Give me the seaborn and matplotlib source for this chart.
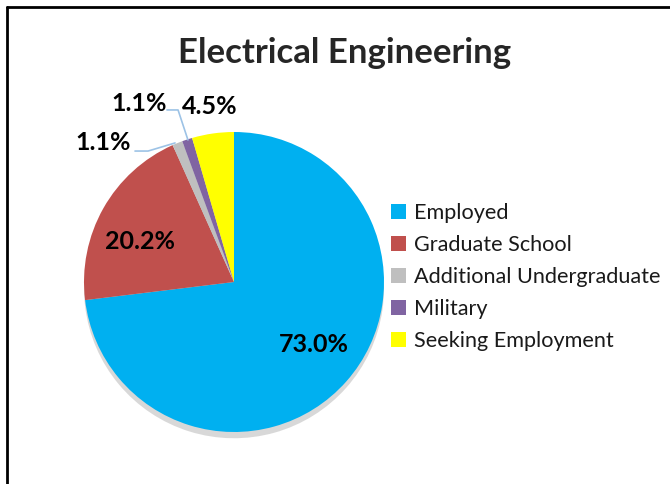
import matplotlib.pyplot as plt
import seaborn as sns
from matplotlib.patches import Shadow

categories = ["Employed", "Graduate School", "Additional Undergraduate", "Military", "Seeking Employment"]
shares = [73.0, 20.2, 1.1, 1.1, 4.5]
colors = ["#00B0F0", "#C0504D", "#BFBFBF", "#8064A2", "#FFFF00"]

sns.set_style("white")
plt.rcParams["font.family"] = ["Lato", "DejaVu Sans"]

fig = plt.figure(figsize=(6.7, 4.84), dpi=100)
# pie centre ~ (234, 282) px, radius ~150 px
ax = fig.add_axes([84 / 670, 1 - 432 / 484, 300 / 670, 300 / 484])

wedges, _ = ax.pie(shares, colors=colors, startangle=90, counterclock=False,
                   radius=1.0, wedgeprops=dict(linewidth=0))
for w in wedges:
    s = Shadow(w, 0.0, -0.03, alpha=0.2, color="#404040")
    s.set_zorder(0)
    ax.add_patch(s)
ax.set_xlim(-1, 1)
ax.set_ylim(-1, 1)
ax.set_aspect("equal")

lab = dict(fontsize=18, fontweight="bold", color="black")
ax.text(0.53, -0.42, "73.0%", ha="center", va="center", **lab)
ax.text(-0.63, 0.27, "20.2%", ha="center", va="center", **lab)
ax.text(-0.87, 0.93, "1.1%", ha="center", va="center", **lab)
ax.text(-0.63, 1.19, "1.1%", ha="center", va="center", **lab)
ax.text(-0.16, 1.17, "4.5%", ha="center", va="center", **lab)
# leader lines
ax.plot([-0.66, -0.573, -0.393], [0.873, 0.873, 0.927], color="#9DC3E6", lw=1.2, clip_on=False)
ax.plot([-0.447, -0.373, -0.307], [1.147, 1.147, 0.947], color="#9DC3E6", lw=1.2, clip_on=False)

fig.text(345 / 670, 1 - 53 / 484, "Electrical Engineering", ha="center", va="center",
         fontsize=25, fontweight="bold")

leg = fig.legend(wedges, categories, loc="center left", bbox_to_anchor=(391 / 670, 1 - 277 / 484),
                 frameon=False, fontsize=15.6, handlelength=0.7, handleheight=0.7,
                 handletextpad=0.35, labelspacing=0.55, borderaxespad=0, borderpad=0)
for t in leg.get_texts():
    t.set_color("#1a1a1a")

# chart frame
fig.add_artist(plt.Line2D([7 / 670, 7 / 670], [0, 1 - 7 / 484], transform=fig.transFigure, color="black", lw=2))
fig.add_artist(plt.Line2D([7 / 670, 1], [1 - 7 / 484, 1 - 7 / 484], transform=fig.transFigure, color="black", lw=2))

fig.savefig("out.png", dpi=100)
